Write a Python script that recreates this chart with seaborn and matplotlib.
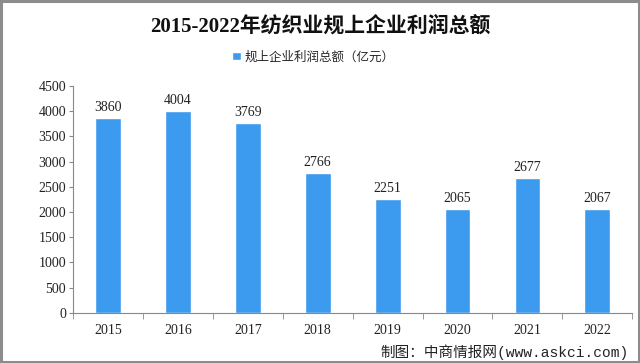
import matplotlib
matplotlib.use("Agg")
import matplotlib.pyplot as plt
import seaborn as sns
import pandas as pd
from matplotlib.patches import Rectangle

years = ["2015", "2016", "2017", "2018", "2019", "2020", "2021", "2022"]
profits = [3860, 4004, 3769, 2766, 2251, 2065, 2677, 2067]
yticks = [0, 500, 1000, 1500, 2000, 2500, 3000, 3500, 4000, 4500]

df = pd.DataFrame({"year": years, "profit": profits})

sns.set_style("white")
plt.rcParams['font.family'] = ['Liberation Serif', 'Noto Sans CJK SC', 'DejaVu Sans']

fig = plt.figure(figsize=(6.4, 3.63), dpi=100)
ax = fig.add_axes([0.114, 0.138, 0.874, 0.625])

bar_color = "#3D9BEF"
sns.barplot(data=df, x="year", y="profit", order=years, color=bar_color,
            width=0.37, saturation=1, ax=ax, label="规上企业利润总额（亿元）")

for i, v in enumerate(profits):
    ax.text(i, v + 80, str(v), ha="center", va="bottom", fontsize=10, color="#222222")

ax.set_xlim(-0.5, len(years) - 0.5)
ax.set_ylim(0, 4500)
ax.set_yticks(yticks)
ax.set_xlabel("")
ax.set_ylabel("")
ax.tick_params(axis="y", labelsize=10, length=3, direction="out", color="#888888", left=True, pad=2)
ax.tick_params(axis="x", which="major", labelsize=10, length=0, pad=8)
ax.set_xticks([i - 0.5 for i in range(len(years) + 1)], minor=True)
ax.tick_params(axis="x", which="minor", length=4, direction="out", color="#888888", bottom=True)
for lab in ax.get_xticklabels() + ax.get_yticklabels():
    lab.set_color("#222222")

for s in ["top", "right"]:
    ax.spines[s].set_visible(False)
for s in ["left", "bottom"]:
    ax.spines[s].set_color("#888888")
    ax.spines[s].set_linewidth(0.8)

leg = ax.legend(loc="center", bbox_to_anchor=(0.43, 1.128), frameon=False,
                handlelength=0.7, handleheight=0.7, handletextpad=0.3,
                prop={"family": ["Noto Sans CJK SC"], "size": 9})

fig.text(0.5, 0.928, "2015-2022年纺织业规上企业利润总额", ha="center", va="center",
         fontsize=15, fontweight="bold", family=["Liberation Serif", "Noto Sans CJK SC"],
         color="#111111")

fig.text(0.982, 0.03, "制图：中商情报网(www.askci.com)", ha="right", va="center",
         fontsize=10.5, family=["Liberation Mono", "Noto Sans CJK SC"], color="#222222")

fig.patches.append(Rectangle((0.002, 0.003), 0.996, 0.994, transform=fig.transFigure,
                             fill=False, edgecolor="#8c8c8c", linewidth=2.2))

fig.savefig("out.png", dpi=100)
